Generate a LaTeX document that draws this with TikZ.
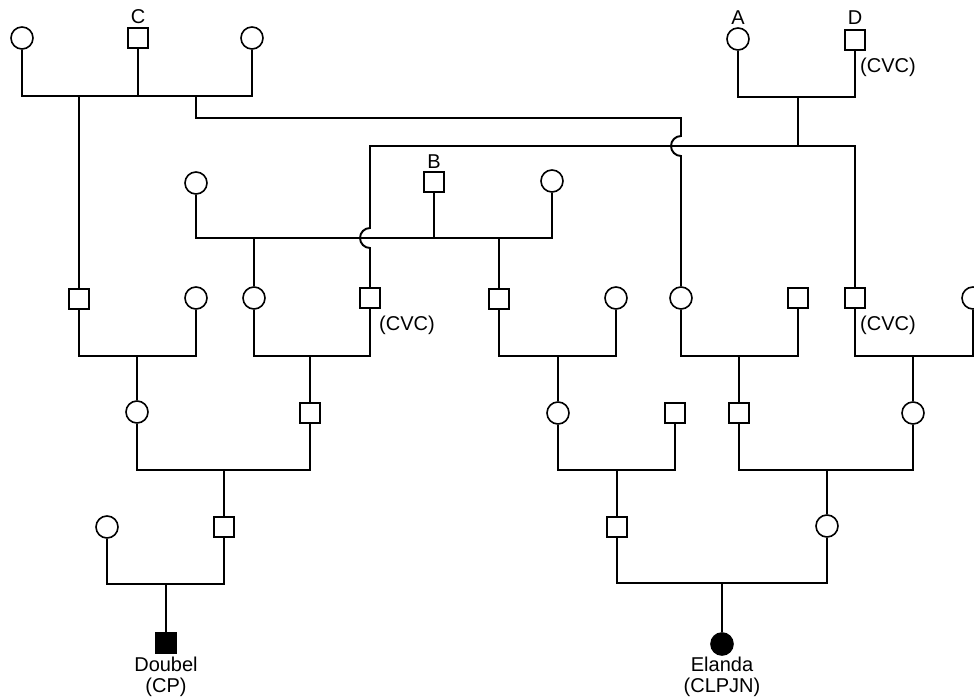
\documentclass[tikz,border=0pt]{standalone}
\usepackage{fontspec}
\setmainfont{Liberation Sans}
\begin{document}
\begin{tikzpicture}[x=1pt,y=-1pt,
  fem/.style={circle,draw,fill=white,line width=1.6pt,minimum size=22pt,inner sep=0pt},
  mal/.style={rectangle,draw,fill=white,line width=1.6pt,minimum size=20pt,inner sep=0pt},
  femx/.style={fem,fill=black},
  malx/.style={mal,fill=black},
  link/.style={line width=1.9pt},
  lbl/.style={font=\fontsize{20}{20.5}\selectfont,inner sep=0pt,align=center}]
\useasboundingbox (0,0) rectangle (974,699);
% generation 0
\node[fem] (g0a) at (22,38) {};
\node[mal] (C) at (138,38) {};
\node[fem] (g0b) at (252,38) {};
\node[fem] (A) at (738,39) {};
\node[mal] (D) at (855,40) {};
% generation 1
\node[fem] (g1a) at (196,183) {};
\node[mal] (B) at (434,182) {};
\node[fem] (g1b) at (552,181) {};
% row 2
\node[mal] (r2a) at (79,299) {};
\node[fem] (r2b) at (196,298) {};
\node[fem] (r2c) at (254,298) {};
\node[mal] (r2d) at (370,298) {};
\node[mal] (r2e) at (499,299) {};
\node[fem] (r2f) at (616,298) {};
\node[fem] (r2g) at (681,298) {};
\node[mal] (r2h) at (798,298) {};
\node[mal] (r2i) at (855,298) {};
\node[fem] (r2j) at (973,298) {};
% row 3
\node[fem] (r3a) at (137,412) {};
\node[mal] (r3b) at (310,413) {};
\node[fem] (r3c) at (558,413) {};
\node[mal] (r3d) at (675,413) {};
\node[mal] (r3e) at (739,413) {};
\node[fem] (r3f) at (913,413) {};
% row 4
\node[fem] (r4a) at (107,527) {};
\node[mal] (r4b) at (224,527) {};
\node[mal] (r4c) at (617,527) {};
\node[fem] (r4d) at (827,526) {};
% probands
\node[malx] (P1) at (166,643) {};
\node[femx] (P2) at (722,644) {};
% labels
\node[lbl] (lC) at (138,17) {C};
\node[lbl] (lA) at (738,18) {A};
\node[lbl] (lD) at (855,18) {D};
\node[lbl] (lB) at (434,162) {B};
\node[lbl] (cvc1) at (888,67) {(CVC)};
\node[lbl] (cvc2) at (407,325) {(CVC)};
\node[lbl] (cvc3) at (888,325) {(CVC)};
\node[lbl] (lP1) at (166,677) {Doubel\\(CP)};
\node[lbl] (lP2) at (722,677) {Elanda\\(CLPJN)};
% junction coordinates
\coordinate (jC) at (79,96);
\coordinate (jC2) at (196,96);
\coordinate (kA) at (681,118);
\coordinate (xA1) at (681,136);
\coordinate (xB2) at (370,248);
\coordinate (jAD0) at (798,97);
\coordinate (jAD) at (798,146);
\coordinate (jB) at (434,238);
\coordinate (m1) at (137,356);
\coordinate (m2) at (310,356);
\coordinate (m3) at (558,356);
\coordinate (m4) at (739,356);
\coordinate (m5) at (913,356);
\coordinate (n1) at (224,470);
\coordinate (n2) at (617,470);
\coordinate (n3) at (827,470);
\coordinate (p1) at (166,584);
\coordinate (p2) at (722,583);
% top-left family
\draw[link] (g0a) -- (g0a |- jC) -- (g0b |- jC) -- (g0b);
\draw[link] (C) -- (C |- jC);
\draw[link] (jC) -- (r2a);
\draw[link] (jC2) |- (kA) -- (xA1) arc[start angle=90,end angle=270,radius=10pt] -- (r2g);
% A-D family
\draw[link] (A) -- (A |- jAD0) -- (D |- jAD0) -- (D);
\draw[link] (jAD0) -- (jAD);
\draw[link] (r2d) -- (xB2) arc[start angle=270,end angle=90,radius=10pt] -- (r2d |- jAD) -- (r2i |- jAD) -- (r2i);
% B family
\draw[link] (g1a) -- (g1a |- jB) -- (g1b |- jB) -- (g1b);
\draw[link] (B) -- (jB);
\draw[link] (r2c) -- (r2c |- jB);
\draw[link] (r2e) -- (r2e |- jB);
% row 2 couples
\draw[link] (r2a) -- (r2a |- m1) -- (r2b |- m1) -- (r2b);
\draw[link] (m1) -- (r3a);
\draw[link] (r2c) -- (r2c |- m2) -- (r2d |- m2) -- (r2d);
\draw[link] (m2) -- (r3b);
\draw[link] (r2e) -- (r2e |- m3) -- (r2f |- m3) -- (r2f);
\draw[link] (m3) -- (r3c);
\draw[link] (r2g) -- (r2g |- m4) -- (r2h |- m4) -- (r2h);
\draw[link] (m4) -- (r3e);
\draw[link] (r2i) -- (r2i |- m5) -- (r2j |- m5) -- (r2j);
\draw[link] (m5) -- (r3f);
% row 3 couples
\draw[link] (r3a) -- (r3a |- n1) -- (r3b |- n1) -- (r3b);
\draw[link] (n1) -- (r4b);
\draw[link] (r3c) -- (r3c |- n2) -- (r3d |- n2) -- (r3d);
\draw[link] (n2) -- (r4c);
\draw[link] (r3e) -- (r3e |- n3) -- (r3f |- n3) -- (r3f);
\draw[link] (n3) -- (r4d);
% row 4 couples
\draw[link] (r4a) -- (r4a |- p1) -- (r4b |- p1) -- (r4b);
\draw[link] (p1) -- (P1);
\draw[link] (r4c) -- (r4c |- p2) -- (r4d |- p2) -- (r4d);
\draw[link] (p2) -- (P2);
\end{tikzpicture}
\end{document}
